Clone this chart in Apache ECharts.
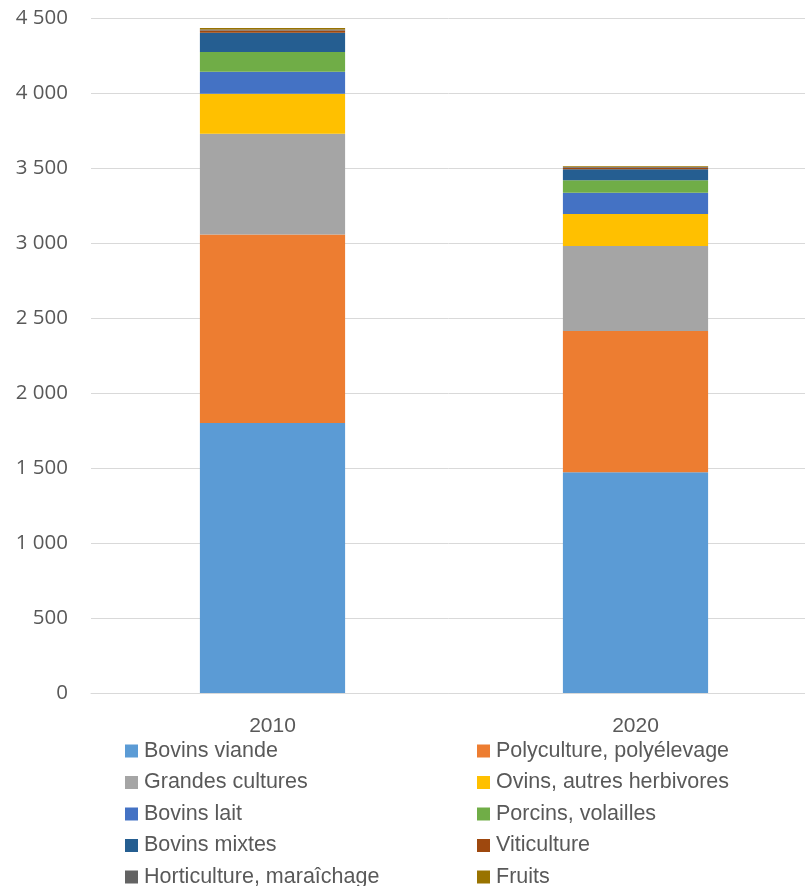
<!DOCTYPE html>
<html><head><meta charset="utf-8">
<script src="https://cdn.jsdelivr.net/npm/echarts@6/dist/echarts.min.js"></script>
<style>html,body{margin:0;padding:0;background:#fff}#c{width:805px;height:886px}</style>
</head><body><div id="c"></div>
<script>
const categories = ['2010', '2020'];
const seriesNames = ['Bovins viande','Polyculture, polyélevage','Grandes cultures','Ovins, autres herbivores','Bovins lait','Porcins, volailles','Bovins mixtes','Viticulture','Horticulture, maraîchage','Fruits'];
const bovinsViande = [1800, 1471];
const polyculture = [1256, 942];
const grandesCultures = [673, 567];
const ovins = [266, 213];
const bovinsLait = [147, 142];
const porcins = [131, 83];
const bovinsMixtes = [129, 73];
const viticulture = [14, 10];
const horticulture = [8, 5];
const fruits = [10, 5];
const yTicks = [0, 500, 1000, 1500, 2000, 2500, 3000, 3500, 4000, 4500];

const values = [bovinsViande, polyculture, grandesCultures, ovins, bovinsLait, porcins, bovinsMixtes, viticulture, horticulture, fruits];
const colors = ['#5B9BD5','#ED7D31','#A5A5A5','#FFC000','#4472C4','#70AD47','#255E91','#9E480E','#636363','#997300'];

const chart = echarts.init(document.getElementById('c'), null, {renderer: 'canvas'});
const fmt = v => String(v).replace(/\B(?=(\d{3})+(?!\d))/g, ' ');
const legendText = {fontFamily: 'Liberation Sans', fontSize: 21.5, color: '#595959', lineHeight: 22, padding: [0, 0, 0, 1]};
const legendBase = {orient: 'vertical', top: 740, height: 300, padding: 0, itemWidth: 13, itemHeight: 13, itemGap: 9.5, icon: 'rect', textStyle: legendText};
chart.setOption({
  animation: false,
  color: colors,
  grid: {left: 91, top: 18, width: 726, height: 675, containLabel: false, outerBoundsMode: 'none'},
  xAxis: {
    type: 'category', data: categories,
    axisLine: {lineStyle: {color: '#d9d9d9', width: 1}},
    axisTick: {show: false},
    axisLabel: {fontFamily: 'Liberation Sans', fontSize: 21, color: '#595959', margin: 23}
  },
  yAxis: {
    type: 'value', min: yTicks[0], max: yTicks[yTicks.length - 1], interval: 500,
    axisLine: {show: false}, axisTick: {show: false},
    splitLine: {lineStyle: {color: '#d9d9d9', width: 1}},
    axisLabel: {fontFamily: 'Open Sans', fontSize: 20.5, color: '#595959', margin: 23, formatter: fmt}
  },
  legend: [
    Object.assign({left: 125, data: [seriesNames[0], seriesNames[2], seriesNames[4], seriesNames[6], seriesNames[8]]}, legendBase),
    Object.assign({left: 477, data: [seriesNames[1], seriesNames[3], seriesNames[5], seriesNames[7], seriesNames[9]]}, legendBase)
  ],
  series: seriesNames.map((n, i) => ({
    name: n, type: 'bar', stack: 'total', barWidth: '40%', data: values[i],
    itemStyle: {color: colors[i]}
  }))
});
</script></body></html>
